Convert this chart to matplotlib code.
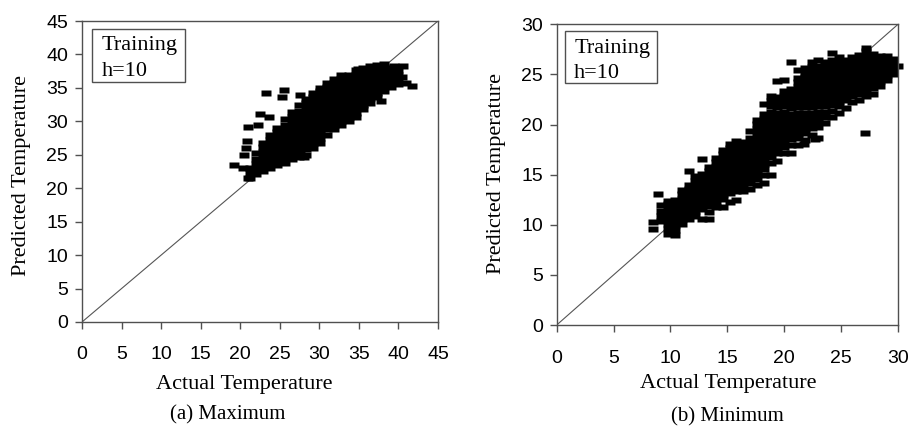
import matplotlib
matplotlib.use("Agg")
import matplotlib.pyplot as plt
from matplotlib.patches import Rectangle

# ---------------- data ----------------
# (a) Maximum temperature, training, h=10
# isolated points (actual, predicted)
max_out_actual = [19.2, 20.8, 20.7, 20.5, 20.4, 21.0, 21.0, 22.3, 22.5, 23.7, 23.2, 25.5,
                  25.3, 27.6, 34.9, 41.7, 37.8, 39.5, 40.6, 40.4, 41.0, 28.0, 27.5]
max_out_predicted = [23.5, 27.0, 26.0, 25.0, 23.0, 21.5, 29.1, 29.4, 31.1, 30.7, 34.3, 34.7,
                     33.6, 34.0, 37.8, 35.3, 33.0, 38.2, 38.2, 36.7, 35.7, 24.7, 25.1]
# dense band: actual value of each column and the predicted values in it
max_col_actual = [21.2, 22.0, 22.9, 23.8, 24.7, 25.6, 26.5, 27.4, 28.3, 29.2, 30.1, 31.0,
                  31.9, 32.8, 33.7, 34.6, 35.5, 36.4, 37.3, 38.2, 39.1, 40.0]
max_col_predicted = [
    [21.5, 22.3, 23.0],
    [22.2, 22.9, 23.6, 24.3, 25.2],
    [22.6, 23.3, 24.0, 24.7, 25.4, 26.1, 26.8],
    [23.0, 23.7, 24.4, 25.1, 25.8, 26.5, 27.2, 28.0],
    [23.5, 24.2, 24.9, 25.6, 26.3, 27.0, 27.7, 28.4, 29.0],
    [23.8, 24.5, 25.2, 25.9, 26.6, 27.3, 28.0, 28.7, 29.4, 30.3],
    [24.3, 25.0, 25.7, 26.4, 27.1, 27.8, 28.5, 29.2, 29.9, 30.6, 31.4],
    [24.6, 25.3, 26.0, 26.7, 27.4, 28.1, 28.8, 29.5, 30.2, 30.9, 31.6, 32.4],
    [25.0, 25.8, 26.5, 27.2, 27.9, 28.6, 29.3, 30.0, 30.7, 31.4, 32.1, 32.8, 33.3],
    [26.0, 26.7, 27.4, 28.1, 28.8, 29.5, 30.2, 30.9, 31.6, 32.3, 33.0, 33.7, 34.3],
    [26.8, 27.5, 28.2, 28.9, 29.6, 30.3, 31.0, 31.7, 32.4, 33.1, 33.8, 34.5, 35.0],
    [28.0, 28.8, 29.5, 30.2, 30.9, 31.6, 32.3, 33.0, 33.7, 34.4, 35.1, 35.7],
    [28.8, 29.5, 30.2, 30.9, 31.6, 32.3, 33.0, 33.7, 34.4, 35.1, 35.8, 36.4],
    [29.4, 30.1, 30.8, 31.5, 32.2, 32.9, 33.6, 34.3, 35.0, 35.7, 36.4, 37.0],
    [30.0, 30.7, 31.4, 32.1, 32.8, 33.5, 34.2, 34.9, 35.6, 36.3, 37.0],
    [30.6, 31.3, 32.0, 32.7, 33.4, 34.1, 34.8, 35.5, 36.2, 36.9, 37.6],
    [31.8, 32.5, 33.2, 33.9, 34.6, 35.3, 36.0, 36.7, 37.4, 38.0],
    [32.8, 33.5, 34.2, 34.9, 35.6, 36.3, 37.0, 37.7, 38.2],
    [33.6, 34.3, 35.0, 35.7, 36.4, 37.1, 37.8, 38.4],
    [34.6, 35.3, 36.0, 36.7, 37.4, 38.1, 38.6],
    [35.2, 35.9, 36.6, 37.3, 38.0],
    [35.6, 36.3, 37.0, 37.7],
]

# (b) Minimum temperature, training, h=10
min_out_actual = [8.9, 27.1, 22.7, 21.7]
min_out_predicted = [13.1, 19.2, 18.6, 18.1]
min_col_actual = [8.5, 9.2, 9.8, 10.4, 11.0, 11.6, 12.2, 12.8, 13.4, 14.0, 14.6, 15.2,
                  15.8, 16.4, 17.0, 17.6, 18.2, 18.8, 19.4, 20.0, 20.6, 21.2, 21.8, 22.4,
                  23.0, 23.6, 24.2, 24.8, 25.4, 26.0, 26.6, 27.2, 27.8, 28.4, 29.0, 29.6,
                  30.0]
min_col_predicted = [
    [9.6, 10.3],
    [10.4, 10.9, 11.4, 12.0],
    [9.1, 9.6, 10.1, 10.6, 11.1, 11.6, 12.1, 12.4],
    [9.0, 9.5, 10.0, 10.5, 11.0, 11.5, 12.0, 12.5],
    [10.1, 10.6, 11.1, 11.6, 12.1, 12.6, 13.1, 13.5],
    [10.6, 11.1, 11.6, 12.1, 12.6, 13.1, 13.6, 14.0, 15.4],
    [10.9, 11.4, 11.9, 12.4, 12.9, 13.4, 13.9, 14.4, 14.9],
    [10.6, 11.6, 12.1, 12.6, 13.1, 13.6, 14.1, 14.6, 15.1, 16.6],
    [10.6, 11.3, 11.9, 12.4, 12.9, 13.4, 13.9, 14.4, 14.9, 15.4, 15.8],
    [11.8, 12.3, 12.8, 13.3, 13.8, 14.3, 14.8, 15.3, 15.8, 16.3, 16.7],
    [11.8, 12.6, 13.1, 13.6, 14.1, 14.6, 15.1, 15.6, 16.1, 16.6, 17.1, 17.5],
    [12.3, 13.2, 13.7, 14.2, 14.7, 15.2, 15.7, 16.2, 16.7, 17.2, 17.7, 18.1],
    [12.5, 13.4, 13.9, 14.4, 14.9, 15.4, 15.9, 16.4, 16.9, 17.4, 17.9, 18.4],
    [13.4, 13.9, 14.4, 14.9, 15.4, 15.9, 16.4, 16.9, 17.4, 17.9, 18.3],
    [13.6, 14.2, 14.7, 15.2, 15.7, 16.2, 16.7, 17.2, 17.7, 18.2, 18.7, 19.4],
    [14.0, 14.6, 15.1, 15.6, 16.1, 16.6, 17.1, 17.6, 18.1, 18.6, 19.1, 19.6, 20.1, 20.5],
    [14.2, 15.0, 15.6, 16.1, 16.6, 17.1, 17.6, 18.1, 18.6, 19.1, 19.6, 20.1, 20.6, 21.1,
     22.0],
    [15.0, 16.2, 16.8, 17.3, 17.8, 18.3, 18.8, 19.3, 19.8, 20.3, 20.8, 21.3, 21.8, 22.3,
     22.8],
    [16.4, 17.2, 17.7, 18.2, 18.7, 19.2, 19.7, 20.2, 20.7, 21.2, 21.7, 22.2, 22.7, 24.3],
    [17.2, 17.8, 18.3, 18.8, 19.3, 19.8, 20.3, 20.8, 21.3, 21.8, 22.3, 22.8, 23.3, 24.4],
    [17.2, 18.0, 18.6, 19.1, 19.6, 20.1, 20.6, 21.1, 21.6, 22.1, 22.6, 23.1, 23.5, 26.2],
    [18.0, 18.7, 19.2, 19.7, 20.2, 20.7, 21.2, 21.7, 22.2, 22.7, 23.2, 23.7, 24.2, 24.6,
     25.4],
    [18.5, 19.2, 19.7, 20.2, 20.7, 21.2, 21.7, 22.2, 22.7, 23.2, 23.7, 24.2, 24.7, 25.1,
     25.6],
    [19.0, 19.7, 20.2, 20.7, 21.2, 21.7, 22.2, 22.7, 23.2, 23.7, 24.2, 24.7, 25.2, 25.7,
     26.2],
    [18.7, 19.8, 20.3, 20.8, 21.3, 21.8, 22.3, 22.8, 23.3, 23.8, 24.3, 24.8, 25.3, 25.8,
     26.4],
    [20.2, 20.8, 21.3, 21.8, 22.3, 22.8, 23.3, 23.8, 24.3, 24.8, 25.3, 25.8, 26.2],
    [20.8, 21.4, 21.9, 22.4, 22.9, 23.4, 23.9, 24.4, 24.9, 25.4, 25.9, 26.4, 27.1],
    [21.2, 21.8, 22.3, 22.8, 23.3, 23.8, 24.3, 24.8, 25.3, 25.8, 26.3, 26.7],
    [21.6, 22.4, 22.9, 23.4, 23.9, 24.4, 24.9, 25.4, 25.9, 26.4],
    [22.2, 22.8, 23.3, 23.8, 24.3, 24.8, 25.3, 25.8, 26.3, 26.7],
    [22.4, 23.0, 23.5, 24.0, 24.5, 25.0, 25.5, 26.0, 26.5, 26.9],
    [22.8, 23.3, 23.8, 24.3, 24.8, 25.3, 25.8, 26.3, 26.8, 27.3, 27.6],
    [23.0, 23.6, 24.1, 24.6, 25.1, 25.6, 26.1, 26.6, 27.0],
    [23.8, 24.3, 24.8, 25.3, 25.8, 26.3, 26.8],
    [24.4, 24.9, 25.4, 25.9, 26.4, 26.8],
    [25.0, 25.5, 26.0, 26.5],
    [25.8],
]

max_ticks = [0, 5, 10, 15, 20, 25, 30, 35, 40, 45]
min_ticks = [0, 5, 10, 15, 20, 25, 30]
box_lines = ["Training", "h=10"]
x_label = "Actual Temperature"
y_label = "Predicted Temperature"
captions = ["(a) Maximum", "(b) Minimum"]


def expand(out_x, out_y, col_x, col_y):
    xs = list(out_x)
    ys = list(out_y)
    for x, col in zip(col_x, col_y):
        xs += [x] * len(col)
        ys += col
    return xs, ys


max_x, max_y = expand(max_out_actual, max_out_predicted, max_col_actual, max_col_predicted)
min_x, min_y = expand(min_out_actual, min_out_predicted, min_col_actual, min_col_predicted)

# ---------------- figure ----------------
SANS = "Liberation Sans"
SERIF = "Liberation Serif"
SPINE = "#505050"
rect_marker = [(-1, -0.64), (1, -0.64), (1, 0.64), (-1, 0.64), (-1, -0.64)]

fig = plt.figure(figsize=(9.13, 4.30), dpi=100)
ax1 = fig.add_axes([82 / 913, 1 - 322 / 430, 356 / 913, 301 / 430])
ax2 = fig.add_axes([556.7 / 913, 1 - 325 / 430, 341.3 / 913, 300.7 / 430])


def style(ax, xs, ys, ticks, lim, box, xl, yl, xpad):
    ax.plot([0, lim], [0, lim], color="#555555", lw=0.8, zorder=1)
    ax.plot(xs, ys, ls="none", marker=rect_marker, ms=7.0, mfc="black",
            mec="none", zorder=2, clip_on=False)
    ax.set_xlim(0, lim)
    ax.set_ylim(0, lim)
    ax.set_xticks(ticks)
    ax.set_yticks(ticks)
    for s in ax.spines.values():
        s.set_color(SPINE)
        s.set_linewidth(1.0)
    ax.tick_params(axis="both", direction="out", length=5, width=1.0,
                   color=SPINE, labelsize=14)
    ax.tick_params(axis="x", pad=xpad)
    ax.tick_params(axis="y", pad=5)
    for lab in ax.get_xticklabels() + ax.get_yticklabels():
        lab.set_fontfamily(SANS)
    ax.set_xlabel(x_label, fontsize=16, fontfamily=SERIF)
    ax.set_ylabel(y_label, fontsize=16, fontfamily=SERIF)
    ax.xaxis.set_label_coords(*xl)
    ax.xaxis.label.set_va("center")
    ax.yaxis.set_label_coords(*yl)
    ax.yaxis.label.set_va("center")
    (bx0, by0, bx1, by1, tx, ty1, ty2) = box
    ax.add_patch(Rectangle((bx0, by0), bx1 - bx0, by1 - by0, transform=ax.transAxes,
                           fill=False, ec=SPINE, lw=1.0, zorder=3))
    ax.text(tx, ty1, box_lines[0], transform=ax.transAxes, fontsize=16,
            fontfamily=SERIF, ha="left", va="baseline")
    ax.text(tx, ty2, box_lines[1], transform=ax.transAxes, fontsize=16,
            fontfamily=SERIF, ha="left", va="baseline")


style(ax1, max_x, max_y, max_ticks, 45,
      (0.028, 0.797, 0.289, 0.973, 0.055, 0.904, 0.817),
      (0.455, -0.206), (-0.169, 0.488), 12)
style(ax2, min_x, min_y, min_ticks, 30,
      (0.024, 0.805, 0.294, 0.978, 0.051, 0.906, 0.822),
      (0.502, -0.193), (-0.175, 0.505), 13)

fig.text(228 / 913, 1 - 415 / 430, captions[0], fontsize=15, fontfamily=SERIF,
         ha="center", va="center")
fig.text(727 / 913, 1 - 417 / 430, captions[1], fontsize=15, fontfamily=SERIF,
         ha="center", va="center")

fig.savefig("out.png", dpi=100)
